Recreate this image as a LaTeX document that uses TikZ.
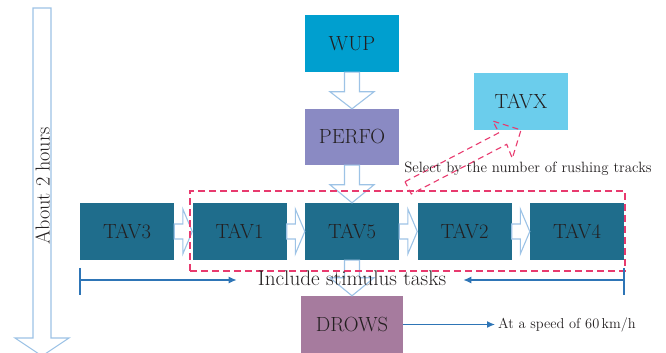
\documentclass[tikz,border=0pt]{standalone}
\usepackage{fontspec}
\usetikzlibrary{calc,arrows.meta}

\definecolor{wupblue}{RGB}{0,159,207}
\definecolor{perfopurple}{RGB}{138,138,195}
\definecolor{tavxblue}{RGB}{107,205,236}
\definecolor{tavteal}{RGB}{31,109,140}
\definecolor{drowsmauve}{RGB}{166,123,158}
\definecolor{flowblue}{RGB}{157,195,230}
\definecolor{selpink}{RGB}{232,58,110}
\definecolor{lineblue}{RGB}{46,117,182}
\definecolor{inkgray}{RGB}{35,31,32}

% hollow block arrow: start, tip, head length, half shaft, half head
\newcommand{\flowarrow}[5]{%
  \coordinate (fh) at ($(#2)!#3!(#1)$);
  \draw[flow] ($(#1)!#4!90:(#2)$) -- ($(fh)!#4!90:(#2)$) -- ($(fh)!#5!90:(#2)$) -- (#2)
    -- ($(fh)!#5!-90:(#2)$) -- ($(fh)!#4!-90:(#2)$) -- ($(#1)!#4!-90:(#2)$) -- cycle;
}

\begin{document}
\begin{tikzpicture}[x=1pt, y=1pt,
  box/.style={minimum width=94pt, minimum height=57pt, inner sep=0pt, text=inkgray,
    font=\fontsize{20.5}{24}\selectfont},
  tav/.style={box, fill=tavteal},
  flow/.style={draw=flowblue, fill=white, line width=1.1pt},
  wire/.style={draw=lineblue, line width=1.2pt},
  note/.style={text=inkgray, inner sep=3pt}]

  \useasboundingbox (0,0) rectangle (666,353);

  % Time line on the left
  \coordinate (ttop) at (42,345);
  \coordinate (tbot) at (42,-3);
  \flowarrow{ttop}{tbot}{18pt}{9pt}{27pt}
  \node[note, rotate=90, anchor=base, font=\fontsize{20.2}{24}\selectfont] (hours) at (49.5,167) {About 2 hours};

  % Warm up and performance blocks
  \node[box, fill=wupblue] (wup) at (352,309.5) {WUP};
  \node[box, fill=perfopurple, minimum height=56pt] (perfo) at (352,216) {PERFO};
  \node[box, fill=tavxblue] (tavx) at (521,251.5) {TAVX};

  % Row of driving tasks
  \node[tav] (tav3) at (127,121.5) {TAV3};
  \node[tav] (tav1) at (239.5,121.5) {TAV1};
  \node[tav] (tav5) at (352,121.5) {TAV5};
  \node[tav] (tav2) at (464.5,121.5) {TAV2};
  \node[tav] (tav4) at (577,121.5) {TAV4};

  % Final drowsiness block
  \node[box, fill=drowsmauve, minimum width=102pt] (drows) at (352,28.5) {DROWS};

  % Hollow arrows between the blocks
  \flowarrow{wup.south}{perfo.north}{17pt}{7.5pt}{22pt}
  \flowarrow{perfo.south}{tav5.north}{18pt}{7.5pt}{22pt}
  \flowarrow{tav5.south}{drows.north}{18pt}{7.5pt}{22pt}
  \flowarrow{tav3.east}{tav1.west}{9.5pt}{7.5pt}{22.5pt}
  \flowarrow{tav1.east}{tav5.west}{9.5pt}{7.5pt}{22.5pt}
  \flowarrow{tav5.east}{tav2.west}{9.5pt}{7.5pt}{22.5pt}
  \flowarrow{tav2.east}{tav4.west}{9.5pt}{7.5pt}{22.5pt}

  % Dashed frame round the selectable tasks
  \node[draw=selpink, dash pattern=on 7pt off 4pt, line width=1.1pt, inner sep=0pt,
    minimum width=435pt, minimum height=80pt] (sel) at (407.5,122) {};

  % Dashed arrow up to TAVX
  \draw[selpink, dash pattern=on 6pt off 4pt, line width=1.1pt]
    (405,171.3) -- (499,220.3) -- (492.7,232) -- (521,223) -- (512.3,194.7)
    -- (506.7,208.7) -- (411.3,159) -- cycle;
  \node[note, anchor=base, font=\fontsize{14.9}{17}\selectfont] (pick) at (528,180)
    {Select by the number of rushing tracks};

  % Span of the stimulus tasks
  \node[note, anchor=base, font=\fontsize{21.2}{24}\selectfont] (incl) at (352,67.3) {Include stimulus tasks};
  \coordinate (sl) at (80,73);
  \coordinate (sr) at (624,73);
  \draw[wire] (sl) ++(0,12) -- ++(0,-27);
  \draw[wire] (sr) ++(0,12) -- ++(0,-27);
  \draw[wire, -{Latex[length=8pt,width=7pt]}, shorten >=18pt] (sl) -- (sl -| incl.west);
  \draw[wire, -{Latex[length=8pt,width=7pt]}, shorten >=14pt] (sr) -- (sr -| incl.east);

  % Speed note
  \node[note, anchor=base west, font=\fontsize{14.4}{17}\selectfont] (speed) at (495,24.7) {At a speed of 60\,km/h};
  \draw[wire, -{Latex[length=8pt,width=7pt]}] (drows.east) -- (drows.east -| speed.west);

\end{tikzpicture}
\end{document}
